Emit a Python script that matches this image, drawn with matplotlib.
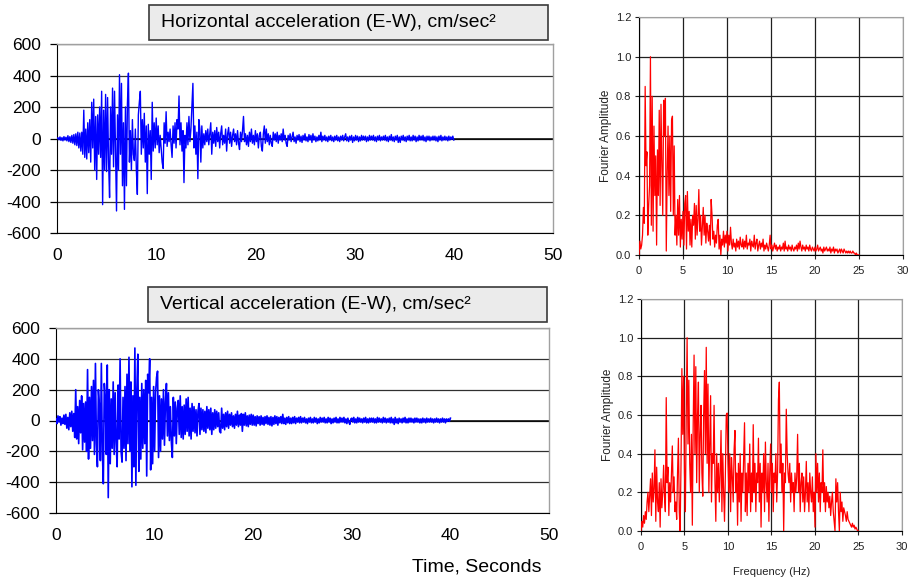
import numpy as np
import matplotlib
matplotlib.use("Agg")
import matplotlib.pyplot as plt
from matplotlib.patches import Rectangle

plt.rcParams['font.family'] = ['Liberation Sans', 'DejaVu Sans']
plt.rcParams['axes.unicode_minus'] = False

# ---- time histories (cm/sec^2), sampled every DT seconds ----
DT = 0.1
horiz_accel = [
    0, 5, -8, 10, -12, 6, -15, 12, -10, 8,
    -15, 18, -20, 12, -25, 20, -30, 25, -40, 30,
    -45, 40, -60, 35, -80, 40, -100, 180, -120, 60,
    -130, 100, -90, 120, -150, 230, -60, 250, -200, 140,
    -260, 150, -100, 200, -120, 300, -420, 180, -200, 280,
    -210, 260, -150, -375, 200, -100, 320, -180, 300, -100,
    -460, 150, -200, 405, -100, 350, -300, 100, -450, 200,
    -300, 220, 415, -150, 50, -200, 120, -100, -140, 60,
    -200, -355, 150, 230, 300, -100, 120, -60, 160, -150,
    80, -350, 90, -100, 50, -260, 230, -80, 100, -60,
    130, -40, 80, -90, 20, -60, -150, -190, 100, -30,
    170, -50, 40, -20, 60, -40, -120, 80, -30, 100,
    -60, 120, 60, 270, -40, 100, -80, 50, -280, 20,
    -60, 100, -40, 140, -20, 60, 200, 350, -60, 80,
    -100, 40, -255, 120, 60, -150, 80, -60, 30, -40,
    50, -20, 60, -40, 30, 100, -100, 40, -30, 50,
    -50, 70, -20, 40, -60, 30, 80, -40, 20, -30,
    60, -80, 30, 70, -30, 40, -50, 20, 60, -20,
    30, -40, 50, -30, -70, 40, -20, 50, 140, -20,
    30, -40, 20, -50, 40, -20, 60, -30, 20, -40,
    50, -20, 30, -60, 20, 40, -50, -80, 30, 80,
    -30, 60, -20, 30, -40, 20, -30, -50, 40, -10,
    30, -20, 40, -30, 20, -10, 30, -20, 60, -10,
    20, -30, -50, 20, -10, 30, -20, 10, 40, -20,
    10, -30, 20, -10, 25, -20, 15, -25, 20, -10,
    30, -15, 10, -20, 25, -10, 20, -25, 30, -10,
    15, -20, 10, -15, 20, -10, 40, -20, 15, -10,
    20, -15, 10, -20, 15, -10, 20, -15, 10, -20,
    15, -10, 20, -15, 10, -20, 15, -10, 20, -15,
    10, 30, -15, 10, -20, 15, -10, 20, -25, 10,
    -15, 20, -10, 15, -20, 10, -15, 20, -10, 15,
    -10, 15, -20, 10, -15, 20, -10, 15, -10, 20,
    -15, 10, -20, 15, -10, 20, -15, 10, -10, 15,
    -10, 20, -15, 10, -20, 15, -10, 25, -15, 10,
    -20, 15, -10, 20, -25, 10, -25, 15, -10, 20,
    -15, 10, -20, 15, -10, 20, -15, 10, -15, 20,
    -10, 15, -20, 10, -15, 20, -10, 15, -10, 20,
    -15, 10, -20, 15, -10, 15, -15, 10, -10, 15,
    -10, 15, -15, 10, -20, 15, -10, 20, -15, 10,
    -10, 15, -10, 10, -15, 15, -10, 10, -5, 15,
    -10,
]

vert_accel = [
    10, -20, 30, -10, 25, -30, 15, -20, 35, -25,
    40, -50, 20, -60, 50, -40, 60, -70, 45, -110,
    200, -120, 90, -150, 130, -80, 160, -190, 110, -140,
    120, -200, 330, -250, 150, -180, 220, -130, 260, -220,
    370, -150, -300, 200, 100, -260, 370, -200, -410, 240,
    150, -220, 360, -500, 200, -280, 140, -180, 250, -220,
    180, -140, -300, 230, -120, 400, -200, -270, 150, -180,
    220, -260, 300, -150, 410, -200, 250, -430, 160, -300,
    470, -420, 200, 430, -330, 150, -250, 240, -180, 200,
    -150, 260, -360, 300, 180, 400, -320, 150, -280, 220,
    -200, 180, 280, 320, -240, 160, -200, 140, -120, 200,
    -160, 120, 240, -100, 180, -130, 90, -140, -240, 150,
    -100, 120, -150, 80, 130, -90, 160, -110, 90, -120,
    100, -90, 140, -70, 150, -100, 80, -120, 110, -70,
    90, -80, 70, -100, 60, 110, -90, 80, -60, 70,
    -70, 60, -80, 90, -50, 70, -60, 80, -90, 50,
    -60, 70, -50, 60, -40, 50, -70, -80, 80, -50,
    40, -60, 50, -40, 60, -50, 40, -30, 50, -40,
    30, -50, 40, -30, 60, -40, 35, -30, 45, -70,
    40, -30, 50, -35, 30, -40, 35, -25, 40, -30,
    35, -30, 25, -35, 30, -20, 25, -30, 30, -25,
    20, -30, 25, -20, 30, -25, 20, -30, 25, -35,
    20, -25, 30, -20, 25, -30, 20, -15, 25, -20,
    40, -20, 15, -25, 20, -15, 25, -20, 15, -20,
    20, -15, 25, -20, 15, -10, 20, -15, 25, -15,
    15, -10, 20, -15, 10, -20, 15, -10, 20, -15,
    10, -15, 20, -10, 15, -20, 10, -15, 20, -10,
    15, -10, 20, -15, 10, -15, 20, -10, 15, -20,
    10, -15, 15, -10, 20, -15, 10, -15, 20, -10,
    15, -10, 20, -15, 10, -20, 15, -10, -25, 10,
    15, -10, 20, -15, 10, -15, 20, -10, 15, -10,
    10, -15, 15, -10, 20, -15, 10, -15, 15, -10,
    15, -10, 15, -15, 10, -15, 20, -10, 15, -10,
    10, -15, 20, -10, 15, -15, 10, -10, 15, -15,
    20, -15, 10, -25, 20, -15, 10, -20, 15, -10,
    10, -15, 15, -10, 20, -15, 10, -15, 15, -10,
    15, -10, 10, -15, 15, -10, 15, -10, 10, -15,
    10, -15, 15, -10, 10, -15, 15, -10, 10, -10,
    15, -10, 10, -15, 10, -10, 15, -10, 10, -15,
    10, -10, 15, -10, 10, -15, 10, -5, 10, -5,
    15,
]

# ---- normalised Fourier amplitude spectra, every DF Hz ----
DF = 0.1
horiz_fourier = [
    0.0, 0.07, 0.03, 0.05, 0.1, 0.24, 0.16, 0.85, 0.45, 0.52,
    0.1, 0.25, 0.35, 1.0, 0.15, 0.8, 0.12, 0.65, 0.3, 0.5,
    0.05, 0.53, 0.3, 0.73, 0.25, 0.76, 0.45, 0.2, 0.78, 0.6,
    0.79, 0.02, 0.4, 0.65, 0.3, 0.6, 0.22, 0.68, 0.7, 0.2,
    0.55, 0.1, 0.2, 0.05, 0.28, 0.1, 0.3, 0.04, 0.18, 0.08,
    0.22, 0.05, 0.26, 0.3, 0.03, 0.32, 0.12, 0.22, 0.05, 0.18,
    0.04, 0.2, 0.15, 0.26, 0.08, 0.25, 0.1, 0.18, 0.33, 0.12,
    0.2, 0.05, 0.15, 0.24, 0.1, 0.2, 0.06, 0.16, 0.12, 0.07,
    0.15, 0.05, 0.28, 0.2, 0.08, 0.12, 0.04, 0.1, 0.06, 0.15,
    0.18, 0.03, 0.1, 0.0, 0.08, 0.05, 0.12, 0.04, 0.1, 0.06,
    0.12, 0.02, 0.1, 0.05, 0.14, 0.06, 0.03, 0.08, 0.04, 0.06,
    0.02, 0.08, 0.04, 0.07, 0.03, 0.09, 0.05, 0.04, 0.08, 0.03,
    0.07, 0.04, 0.1, 0.03, 0.06, 0.05, 0.08, 0.02, 0.07, 0.05,
    0.04, 0.1, 0.03, 0.06, 0.08, 0.02, 0.05, 0.07, 0.03, 0.06,
    0.04, 0.08, 0.02, 0.05, 0.03, 0.06, 0.04, 0.02, 0.05, 0.1,
    0.03, 0.05, 0.02, 0.04, 0.06, 0.03, 0.05, 0.02, 0.04, 0.03,
    0.05, 0.02, 0.04, 0.03, 0.06, 0.02, 0.07, 0.03, 0.04, 0.02,
    0.05, 0.03, 0.04, 0.02, 0.05, 0.03, 0.02, 0.04, 0.03, 0.05,
    0.02, 0.06, 0.03, 0.07, 0.04, 0.02, 0.05, 0.03, 0.04, 0.02,
    0.05, 0.03, 0.04, 0.02, 0.05, 0.03, 0.02, 0.04, 0.03, 0.02,
    0.04, 0.02, 0.03, 0.05, 0.02, 0.03, 0.04, 0.02, 0.03, 0.01,
    0.04, 0.02, 0.03, 0.04, 0.02, 0.03, 0.02, 0.04, 0.01, 0.03,
    0.02, 0.04, 0.01, 0.03, 0.02, 0.03, 0.01, 0.02, 0.03, 0.01,
    0.03, 0.02, 0.01, 0.03, 0.02, 0.01, 0.02, 0.01, 0.02, 0.01,
    0.02, 0.01, 0.01, 0.02, 0.01, 0.01, 0.0, 0.01, 0.0, 0.0,
    0.0,
]

vert_fourier = [
    0.0, 0.05, 0.02, 0.08, 0.04, 0.1, 0.06, 0.15, 0.2, 0.1,
    0.18, 0.27, 0.08, 0.3, 0.15, 0.22, 0.42, 0.05, 0.33, 0.15,
    0.1, 0.25, 0.02, 0.27, 0.12, 0.2, 0.34, 0.18, 0.1, 0.69,
    0.25, 0.33, 0.08, 0.25, 0.15, 0.3, 0.44, 0.2, 0.28, 0.1,
    0.15, 0.06, 0.3, 0.48, 0.1, 0.0, 0.35, 0.84, 0.5, 0.8,
    0.3, 0.1, 0.6, 1.0, 0.45, 0.78, 0.35, 0.2, 0.5, 0.03,
    0.55, 0.91, 0.4, 0.85, 0.25, 0.6, 0.77, 0.2, 0.5, 0.65,
    0.3, 0.18, 0.6, 0.83, 0.4, 0.95, 0.35, 0.76, 0.2, 0.45,
    0.7, 0.15, 0.4, 0.35, 0.65, 0.25, 0.05, 0.4, 0.2, 0.35,
    0.15, 0.3, 0.52, 0.1, 0.4, 0.2, 0.05, 0.3, 0.6, 0.61,
    0.35, 0.2, 0.4, 0.1, 0.38, 0.28, 0.15, 0.42, 0.52, 0.2,
    0.3, 0.03, 0.35, 0.15, 0.4, 0.05, 0.3, 0.2, 0.38, 0.56,
    0.1, 0.3, 0.08, 0.35, 0.2, 0.45, 0.1, 0.3, 0.15, 0.55,
    0.2, 0.35, 0.1, 0.3, 0.25, 0.48, 0.15, 0.35, 0.02, 0.3,
    0.2, 0.4, 0.1, 0.46, 0.25, 0.15, 0.35, 0.05, 0.3, 0.45,
    0.2, 0.35, 0.1, 0.3, 0.25, 0.4, 0.15, 0.3, 0.68, 0.77,
    0.3, 0.45, 0.2, 0.35, 0.0, 0.3, 0.25, 0.63, 0.4, 0.3,
    0.25, 0.35, 0.15, 0.3, 0.2, 0.25, 0.1, 0.3, 0.2, 0.28,
    0.5, 0.2, 0.35, 0.1, 0.25, 0.3, 0.15, 0.28, 0.1, 0.2,
    0.36, 0.15, 0.25, 0.1, 0.3, 0.2, 0.15, 0.28, 0.1, 0.2,
    0.02, 0.4, 0.2, 0.35, 0.15, 0.3, 0.1, 0.25, 0.2, 0.42,
    0.15, 0.25, 0.1, 0.23, 0.15, 0.2, 0.12, 0.18, 0.08, 0.15,
    0.2, 0.1, 0.05, 0.0, 0.27, 0.15, 0.25, 0.1, 0.0, 0.2,
    0.1, 0.15, 0.05, 0.12, 0.1, 0.08, 0.05, 0.1, 0.06, 0.05,
    0.04, 0.03, 0.02, 0.04, 0.02, 0.03, 0.01, 0.02, 0.01, 0.0,
    0.0,
]

time_ticks = [0, 10, 20, 30, 40, 50]
accel_ticks = [-600, -400, -200, 0, 200, 400, 600]
freq_ticks = [0, 5, 10, 15, 20, 25, 30]
amp_ticks = [0.0, 0.2, 0.4, 0.6, 0.8, 1.0, 1.2]
amp_labels = ['0.0', '0.2', '0.4', '0.6', '0.8', '1.0', '1.2']

titles = ['Horizontal acceleration (E-W), cm/sec\u00b2',
          'Vertical acceleration (E-W), cm/sec\u00b2']

W, H = 912, 580
fig = plt.figure(figsize=(W / 100, H / 100), dpi=100)


def box_axes(x0, y0, x1, y1):
    """Axes placed by pixel edges (origin at top-left)."""
    return fig.add_axes([x0 / W, 1 - y1 / H, (x1 - x0) / W, (y1 - y0) / H])


def style_time_axes(ax):
    ax.set_xlim(0, 50)
    ax.set_ylim(-600, 600)
    ax.set_xticks(time_ticks)
    ax.set_yticks(accel_ticks)
    ax.yaxis.grid(True, color='#303030', linewidth=0.9)
    ax.set_axisbelow(True)
    ax.axhline(0, color='black', linewidth=1.1, zorder=1)
    for s in ('top', 'right'):
        ax.spines[s].set_color('#a0a0a0')
        ax.spines[s].set_linewidth(1.0)
    ax.spines['left'].set_color('black')
    ax.spines['bottom'].set_color('black')
    ax.tick_params(axis='y', length=5, width=0.9, pad=6.5, labelsize=12.5,
                   colors='black')
    ax.tick_params(axis='x', length=0, pad=11, labelsize=12.5)


def style_freq_axes(ax):
    ax.set_xlim(0, 30)
    ax.set_ylim(0, 1.2)
    ax.set_xticks(freq_ticks)
    ax.set_yticks(amp_ticks)
    ax.set_yticklabels(amp_labels)
    ax.grid(True, color='#202020', linewidth=0.9)
    ax.set_axisbelow(True)
    for s in ('top', 'right'):
        ax.spines[s].set_color('#a0a0a0')
    ax.spines['left'].set_color('black')
    ax.spines['bottom'].set_color('black')
    ax.tick_params(length=3, width=0.8, labelsize=8, colors='#222222')
    ax.tick_params(axis='x', pad=5)
    ax.tick_params(axis='y', pad=2.5)
    ax.set_ylabel('Fourier Amplitude', fontsize=8.5, color='#222222',
                  labelpad=3)


def title_box(x0, y0, x1, y1, text):
    fig.patches.append(Rectangle((x0 / W, 1 - y1 / H), (x1 - x0) / W,
                                 (y1 - y0) / H, transform=fig.transFigure,
                                 facecolor='#ebebeb', edgecolor='#3a3a3a',
                                 linewidth=1.2, zorder=5))
    fig.text((x0 + 12) / W, 1 - ((y0 + y1) / 2) / H, text, fontsize=14,
             ha='left', va='center', zorder=6)


# time histories
t_h = np.arange(len(horiz_accel)) * DT
t_v = np.arange(len(vert_accel)) * DT

ax1 = box_axes(57, 44, 553, 233)
ax1.plot(t_h, horiz_accel, color='#0000ff', linewidth=1.0, zorder=3)
style_time_axes(ax1)

ax2 = box_axes(56, 328, 549, 513)
ax2.plot(t_v, vert_accel, color='#0000ff', linewidth=1.2, zorder=3)
style_time_axes(ax2)

title_box(149, 5, 548, 40, titles[0])
title_box(148, 287, 547, 322, titles[1])

fig.text(542 / W, 1 - 567 / H, 'Time, Seconds', fontsize=14,
         ha='right', va='center')

# Fourier spectra
f_h = np.arange(len(horiz_fourier)) * DF
f_v = np.arange(len(vert_fourier)) * DF

ax3 = box_axes(639, 17, 903, 255)
ax3.plot(f_h, horiz_fourier, color='#ff0000', linewidth=0.9, zorder=3)
style_freq_axes(ax3)

ax4 = box_axes(641, 299, 902, 531)
ax4.plot(f_v, vert_fourier, color='#ff0000', linewidth=0.9, zorder=3)
style_freq_axes(ax4)
ax4.set_xlabel('Frequency (Hz)', fontsize=8, color='#222222', labelpad=11)

fig.savefig('out.png', dpi=100)
